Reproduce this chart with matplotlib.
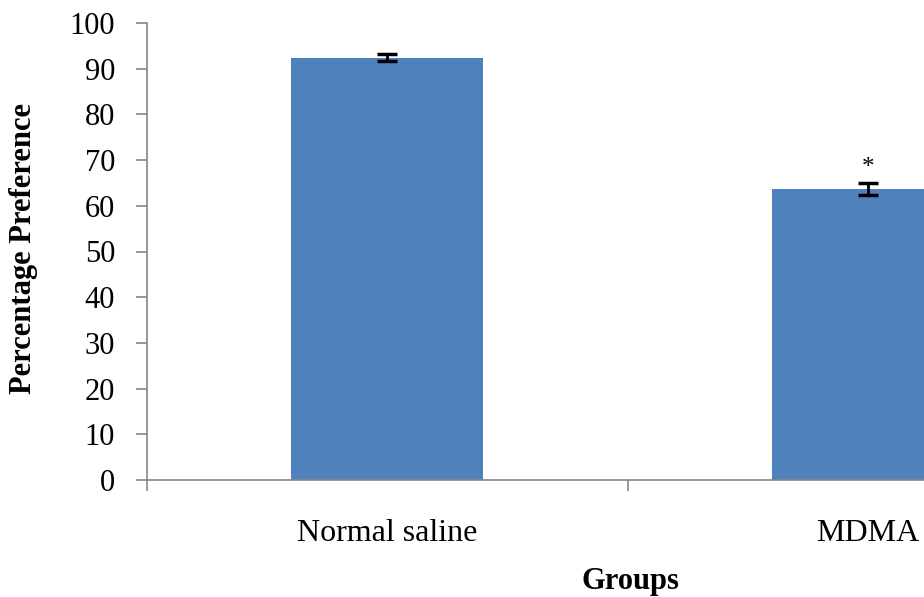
import matplotlib.pyplot as plt

groups = ['Normal saline', 'MDMA']
preference = [92.4, 63.6]
errors = [0.8, 1.3]
marks = ['', '*']

plt.rcParams['font.family'] = ['Liberation Serif', 'DejaVu Serif']

fig = plt.figure(figsize=(9.24, 5.97), dpi=100)
# axes runs past the right edge of the figure, as in the source image
ax = fig.add_axes([147 / 924, 117 / 597, 961 / 924, 457 / 597])

x = list(range(len(groups)))
ax.bar(x, preference, width=0.4, color='#4F81BD', zorder=2)
ax.errorbar(x, preference, yerr=errors, fmt='none', ecolor='black',
            elinewidth=2, capsize=7, capthick=2.5, zorder=3)
for xi, v, e, m in zip(x, preference, errors, marks):
    if m:
        ax.text(xi, v + e + 1.0, m, ha='center', va='bottom', fontsize=18)

ax.set_xlim(-0.5, 1.5)
ax.set_ylim(0, 100)
ax.set_yticks(range(0, 101, 10))
ax.set_xticks([-0.5, 0.5, 1.5], minor=False)
ax.set_xticklabels([])
ax.set_xticks(x, minor=True)
ax.set_xticklabels(groups, minor=True)

for s in ['top', 'right']:
    ax.spines[s].set_visible(False)
for s in ['left', 'bottom']:
    ax.spines[s].set_color('#868686')
    ax.spines[s].set_linewidth(1.2)

ax.tick_params(axis='y', direction='out', length=8, width=1.2, color='#868686',
               labelsize=22, pad=15)
ax.tick_params(axis='x', which='major', direction='out', length=8, width=1.2,
               color='#868686')
ax.tick_params(axis='x', which='minor', length=0, labelsize=23, pad=28)

fig.text(24 / 924, 1 - 248 / 597, 'Percentage Preference', rotation=90,
         ha='center', va='center', fontsize=22, fontweight='bold')
fig.text(630 / 924, 1 - 582 / 597, 'Groups', ha='center', va='center',
         fontsize=22, fontweight='bold')

fig.savefig('out.png', dpi=100)
